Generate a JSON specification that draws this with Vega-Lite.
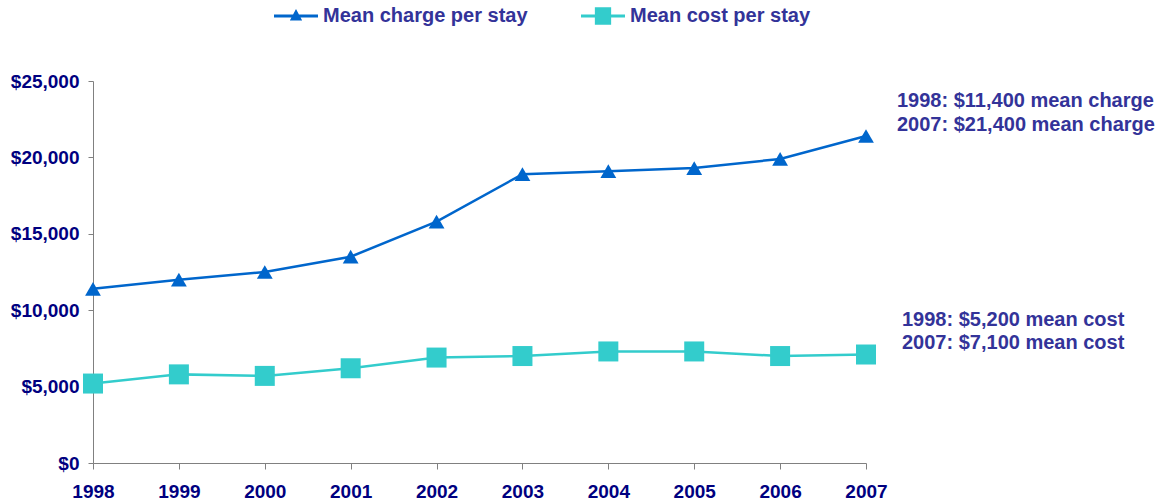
{
  "$schema": "https://vega.github.io/schema/vega-lite/v6.json",
  "width": 773,
  "height": 382,
  "autosize": {"type": "none"},
  "padding": {"left": 93, "top": 81, "right": 297, "bottom": 41},
  "background": "white",
  "config": {
    "view": {"stroke": null},
    "font": "Liberation Sans",
    "axis": {
      "grid": false,
      "domainColor": "#808080",
      "tickColor": "#808080",
      "labelFont": "Liberation Sans",
      "labelFontWeight": "bold",
      "labelFontSize": 19,
      "labelColor": "#000080",
      "title": null
    }
  },
  "datasets": {
    "series": [
      {"year": 1998, "series": "Mean charge per stay", "value": 11400},
      {"year": 1999, "series": "Mean charge per stay", "value": 12000},
      {"year": 2000, "series": "Mean charge per stay", "value": 12500},
      {"year": 2001, "series": "Mean charge per stay", "value": 13500},
      {"year": 2002, "series": "Mean charge per stay", "value": 15800},
      {"year": 2003, "series": "Mean charge per stay", "value": 18900},
      {"year": 2004, "series": "Mean charge per stay", "value": 19100},
      {"year": 2005, "series": "Mean charge per stay", "value": 19300},
      {"year": 2006, "series": "Mean charge per stay", "value": 19900},
      {"year": 2007, "series": "Mean charge per stay", "value": 21400},
      {"year": 1998, "series": "Mean cost per stay", "value": 5200},
      {"year": 1999, "series": "Mean cost per stay", "value": 5800},
      {"year": 2000, "series": "Mean cost per stay", "value": 5700},
      {"year": 2001, "series": "Mean cost per stay", "value": 6200},
      {"year": 2002, "series": "Mean cost per stay", "value": 6900},
      {"year": 2003, "series": "Mean cost per stay", "value": 7000},
      {"year": 2004, "series": "Mean cost per stay", "value": 7300},
      {"year": 2005, "series": "Mean cost per stay", "value": 7300},
      {"year": 2006, "series": "Mean cost per stay", "value": 7000},
      {"year": 2007, "series": "Mean cost per stay", "value": 7100}
    ],
    "chargeNotes": [
      {"year": 2007, "value": 23700, "note": "1998: $11,400 mean charge"},
      {"year": 2007, "value": 22120, "note": "2007: $21,400 mean charge"}
    ],
    "costNotes": [
      {"year": 2007, "value": 9360, "note": "1998: $5,200 mean cost"},
      {"year": 2007, "value": 7850, "note": "2007: $7,100 mean cost"}
    ]
  },
  "layer": [
    {
      "data": {"name": "series"},
      "mark": {"type": "line", "strokeWidth": 2.5},
      "encoding": {
        "x": {
          "field": "year", "type": "quantitative",
          "scale": {"domain": [1998, 2007], "nice": false, "zero": false},
          "axis": {"values": [1998, 1999, 2000, 2001, 2002, 2003, 2004, 2005, 2006, 2007], "format": "d", "tickSize": 6, "labelPadding": 13, "labelFlush": false, "labelOverlap": false}
        },
        "y": {
          "field": "value", "type": "quantitative",
          "scale": {"domain": [0, 25000], "nice": false},
          "axis": {"values": [0, 5000, 10000, 15000, 20000, 25000], "format": "$,d", "tickSize": 5, "labelPadding": 9, "labelFlush": false, "labelOverlap": false}
        },
        "color": {
          "field": "series", "type": "nominal",
          "scale": {"domain": ["Mean charge per stay", "Mean cost per stay"], "range": ["#0066CC", "#33CCCC"]},
          "legend": {
            "orient": "none",
            "legendX": 181,
            "legendY": -87,
            "direction": "horizontal",
            "title": null,
            "symbolSize": 1936,
            "symbolStrokeWidth": 0,
            "symbolOpacity": 1,
            "labelFont": "Liberation Sans",
            "labelFontWeight": "bold",
            "labelFontSize": 20,
            "labelColor": "#333399",
            "labelOffset": 5,
            "columnPadding": 53,
            "labelLimit": 400,
            "encode": {
              "symbols": {
                "update": {
                  "shape": {"signal": "datum.value === 'Mean charge per stay' ? 'M-1,-0.07H1V0.07H-1Z M0,-0.32L0.28,0.2H-0.28Z' : 'M-1,-0.07H1V0.07H-1Z M-0.37,-0.4H0.37V0.4H-0.37Z'"},
                  "fill": {"signal": "datum.value === 'Mean charge per stay' ? '#0066CC' : '#33CCCC'"},
                  "size": {"value": 1936},
                  "strokeWidth": {"value": 0},
                  "opacity": {"value": 1}
                }
              }
            }
          }
        },
        "detail": {"field": "series"}
      }
    },
    {
      "data": {"name": "series"},
      "transform": [{"filter": "datum.series === 'Mean charge per stay'"}],
      "mark": {"type": "point", "filled": true, "opacity": 1, "shape": "triangle-up", "size": 250},
      "encoding": {
        "x": {"field": "year", "type": "quantitative"},
        "y": {"field": "value", "type": "quantitative"},
        "color": {"field": "series", "type": "nominal"}
      }
    },
    {
      "data": {"name": "series"},
      "transform": [{"filter": "datum.series === 'Mean cost per stay'"}],
      "mark": {"type": "point", "filled": true, "opacity": 1, "shape": "square", "size": 400},
      "encoding": {
        "x": {"field": "year", "type": "quantitative"},
        "y": {"field": "value", "type": "quantitative"},
        "color": {"field": "series", "type": "nominal"}
      }
    },
    {
      "data": {"name": "chargeNotes"},
      "mark": {"type": "text", "align": "left", "baseline": "middle", "dx": 31, "font": "Liberation Sans", "fontWeight": "bold", "fontSize": 20, "color": "#333399"},
      "encoding": {
        "x": {"field": "year", "type": "quantitative"},
        "y": {"field": "value", "type": "quantitative"},
        "text": {"field": "note"}
      }
    },
    {
      "data": {"name": "costNotes"},
      "mark": {"type": "text", "align": "left", "baseline": "middle", "dx": 36, "font": "Liberation Sans", "fontWeight": "bold", "fontSize": 20, "color": "#333399"},
      "encoding": {
        "x": {"field": "year", "type": "quantitative"},
        "y": {"field": "value", "type": "quantitative"},
        "text": {"field": "note"}
      }
    }
  ]
}
